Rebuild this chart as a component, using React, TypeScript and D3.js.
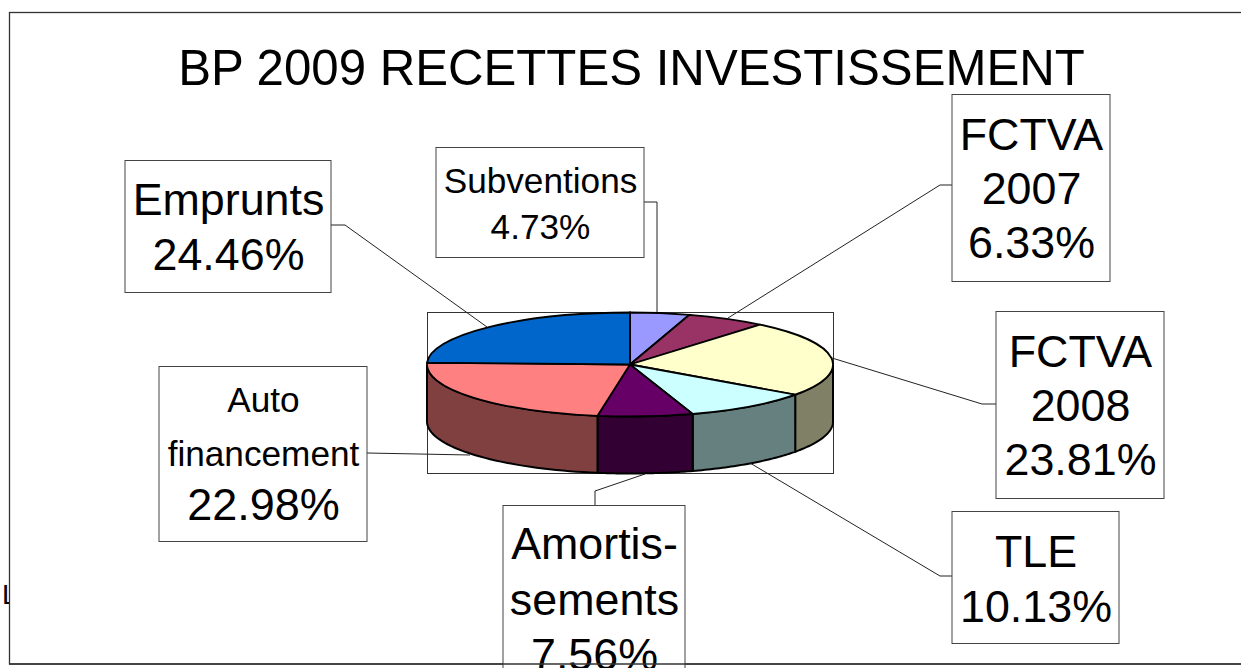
import React from "react";
import * as d3 from "d3";

const categories = ["Subventions", "FCTVA 2007", "FCTVA 2008", "TLE", "Amortissements", "Auto financement", "Emprunts"];
const percentages = [4.73, 6.33, 23.81, 10.13, 7.56, 22.98, 24.46];
const topColors = ["#9999FF", "#993366", "#FFFFCC", "#CCFFFF", "#660066", "#FF8080", "#0066CC"];
const sideColors = ["#4D4D80", "#4D1A33", "#808066", "#668080", "#330033", "#804040", "#003366"];
const labelLines = [
  ["Subventions", "4.73%"],
  ["FCTVA", "2007", "6.33%"],
  ["FCTVA", "2008", "23.81%"],
  ["TLE", "10.13%"],
  ["Amortis-", "sements", "7.56%"],
  ["Auto", "financement", "22.98%"],
  ["Emprunts", "24.46%"],
];
const title = "BP 2009 RECETTES INVESTISSEMENT";

type Box = { x: number; y: number; w: number; h: number; first: number; step: number; size: number; sizes?: number[]; leader: [number, number][] };
const boxes: Box[] = [
  { x: 436, y: 147, w: 208, h: 110, first: 193, step: 46, size: 35.2, leader: [[644, 202], [657, 202], [657, 312]] },
  { x: 952, y: 94, w: 158, h: 187, first: 150, step: 54, size: 44.8, leader: [[952, 185], [940, 185], [728, 318]] },
  { x: 996, y: 311, w: 168, h: 187, first: 367, step: 54, size: 44.8, leader: [[996, 404], [982, 404], [832, 358]] },
  { x: 952, y: 511, w: 167, h: 132, first: 567, step: 55, size: 44.8, leader: [[952, 576], [940, 576], [750, 463]] },
  { x: 503, y: 505, w: 182, h: 175, first: 559, step: 55.5, size: 44.8, leader: [[595, 505], [595, 491], [645, 474]] },
  { x: 159, y: 366, w: 208, h: 175, first: 412, step: 54, size: 35.2, sizes: [35.2, 35.2, 45], leader: [[367, 453], [470, 455]] },
  { x: 125, y: 160, w: 206, h: 132, first: 215, step: 55, size: 44.8, leader: [[331, 225], [345, 225], [487, 327]] },
];

const W = 1241, H = 668;
const cx = 630, cy = 364.5, rx = 203, ry = 52, depth = 57;
const font = "'Liberation Sans', Arial, sans-serif";

export default function App() {
  const pie = d3.pie<number>().sort(null).startAngle(0).endAngle(2 * Math.PI);
  const arcs = pie(percentages);
  const arcGen = d3.arc<d3.PieArcDatum<number>>().innerRadius(0).outerRadius(rx);

  const px = (a: number) => cx + rx * Math.sin(a);
  const py = (a: number) => cy - ry * Math.cos(a);

  const sidePath = (a0: number, a1: number) => {
    const from = Math.max(a0, Math.PI / 2);
    const to = Math.min(a1, (3 * Math.PI) / 2);
    if (to <= from) return null;
    const angles = d3.range(0, 41).map((i) => from + ((to - from) * i) / 40);
    const area = d3
      .area<number>()
      .x((a) => px(a))
      .y0((a) => py(a))
      .y1((a) => py(a) + depth);
    return area(angles);
  };

  return (
    <svg width={W} height={H} viewBox={`0 0 ${W} ${H}`} style={{ position: "absolute", left: 0, top: 0, display: "block", background: "#fff" }} fontFamily={font}>
      <text x={2} y={604} fontSize={28} fill="#000">L</text>
      <rect x={9.5} y={12.5} width={W} height={651.5} fill="#fff" stroke="#333" strokeWidth={1.3} />
      <text x={631.5} y={84.5} textAnchor="middle" fontSize={49.2} fill="#000">{title}</text>

      <rect x={427.5} y={312.5} width={406} height={161} fill="#fff" stroke="#333" strokeWidth={1} />

      {arcs.map((d, i) => {
        const p = sidePath(d.startAngle, d.endAngle);
        return p ? <path key={categories[i]} d={p} fill={sideColors[i]} stroke="#000" strokeWidth={2} /> : null;
      })}
      <g transform={`translate(${cx},${cy}) scale(1,${ry / rx})`}>
        {arcs.map((d, i) => (
          <path key={categories[i]} d={arcGen(d) as string} fill={topColors[i]} stroke="#000" strokeWidth={1.8} vectorEffect="non-scaling-stroke" />
        ))}
      </g>

      {boxes.map((b, i) => (
        <g key={categories[i]}>
          <path d={d3.line()(b.leader) as string} fill="none" stroke="#222" strokeWidth={1} />
          <rect x={b.x} y={b.y + 0.5} width={b.w} height={b.h} fill="#fff" stroke="#444" strokeWidth={1} />
          {labelLines[i].map((t, j) => (
            <text key={j} x={b.x + b.w / 2 + 0.5} y={b.first + j * b.step} textAnchor="middle" fontSize={b.sizes ? b.sizes[j] : b.size} fill="#000">{t}</text>
          ))}
        </g>
      ))}
      <line x1={9} x2={W} y1={664} y2={664} stroke="#333" strokeWidth={1.3} />
    </svg>
  );
}
